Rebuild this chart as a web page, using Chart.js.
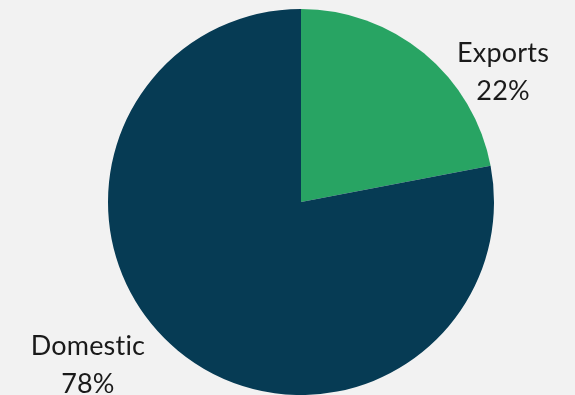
<!DOCTYPE html>
<html>
<head>
<meta charset="utf-8">
<script src="https://cdn.jsdelivr.net/npm/chart.js@4"></script>
<style>
  html, body { margin: 0; padding: 0; background: #f2f2f2; }
  #wrap { width: 575px; height: 395px; }
</style>
</head>
<body>
<div id="wrap"><canvas id="pieChart"></canvas></div>
<script>
const categories = ["Exports", "Domestic"];
const shares = [22, 78];
const sliceColors = ["#28A463", "#063B54"];

// label offsets relative to outer radius (outside the pie)
const labelOffsets = [[1.047, -0.674], [-1.104, 0.845]];

const outsideLabels = {
    id: "outsideLabels",
    afterDatasetsDraw(chart) {
        const ctx = chart.ctx;
        const meta = chart.getDatasetMeta(0);
        ctx.save();
        ctx.font = "27px Lato";
        ctx.letterSpacing = "0.2px"; // also keeps "ti" from joining
        ctx.fillStyle = "#1a1a1a";
        ctx.textAlign = "center";
        ctx.textBaseline = "middle";
        meta.data.forEach((arc, i) => {
            const x = arc.x + labelOffsets[i][0] * arc.outerRadius;
            const y = arc.y + labelOffsets[i][1] * arc.outerRadius;
            ctx.fillText(categories[i], x, y - 19);
            ctx.fillText(shares[i] + "%", x, y + 19);
        });
        ctx.restore();
    }
};

const pieCtx = document.getElementById("pieChart");

if (pieCtx) {
    new Chart(pieCtx, {
        type: "pie",
        data: {
            labels: categories,
            datasets: [
                {
                    data: shares,
                    backgroundColor: sliceColors,
                    borderWidth: 0
                }
            ]
        },
        options: {
            responsive: true,
            maintainAspectRatio: false,
            animation: false,
            layout: {
                padding: { top: 9, bottom: 0, left: 27, right: 0 }
            },
            plugins: {
                legend: { display: false },
                tooltip: { enabled: false }
            }
        },
        plugins: [outsideLabels]
    });
}
</script>
</body>
</html>
